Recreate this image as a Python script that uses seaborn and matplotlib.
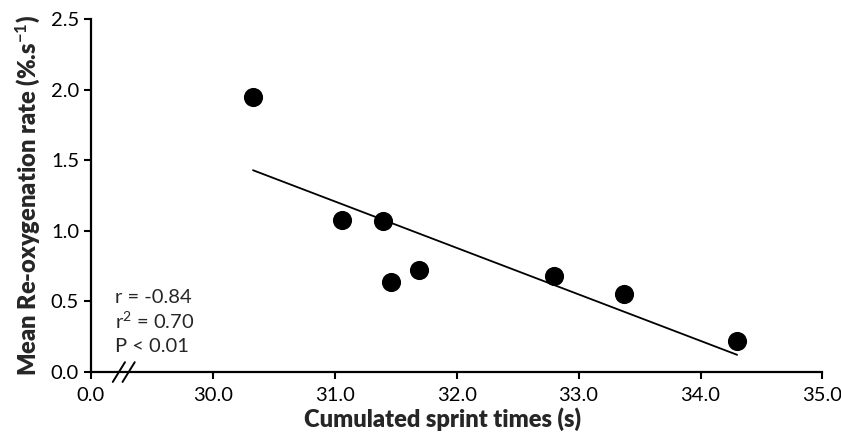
import pandas as pd
import matplotlib
matplotlib.use('Agg')
import matplotlib.pyplot as plt
import seaborn as sns

sns.set_style('ticks')
plt.rcParams['font.family'] = ['Lato', 'DejaVu Sans']
plt.rcParams['mathtext.fontset'] = 'custom'
plt.rcParams['mathtext.rm'] = 'Lato'
plt.rcParams['mathtext.it'] = 'Lato'
plt.rcParams['mathtext.bf'] = 'Lato:bold'

# valores
sprint_times = [30.33, 31.06, 31.40, 31.46, 31.69, 32.80, 33.37, 34.30]
reoxy_rate = [1.945, 1.076, 1.067, 0.64, 0.724, 0.68, 0.55, 0.22]
x_ticks = [29, 30, 31, 32, 33, 34, 35]
x_tick_labels = ['0.0', '30.0', '31.0', '32.0', '33.0', '34.0', '35.0']
y_ticks = [0.0, 0.5, 1.0, 1.5, 2.0, 2.5]
stats_text = ['r = -0.84', 'r$^{\\mathrm{2}}$ = 0.70', 'P < 0.01']

df = pd.DataFrame({'time': sprint_times, 'rate': reoxy_rate})

fig = plt.figure(figsize=(8.41, 4.44), dpi=100)
ax = fig.add_axes([0.108, 0.162, 0.870, 0.795])

sns.regplot(x='time', y='rate', data=df, ci=None, ax=ax,
            scatter_kws={'s': 190, 'color': 'black', 'linewidths': 0, 'alpha': 1},
            line_kws={'color': 'black', 'linewidth': 1.3})

ax.set_xlim(29, 35)
ax.set_ylim(0, 2.5)
ax.set_xticks(x_ticks)
ax.set_xticklabels(x_tick_labels)
ax.set_yticks(y_ticks)
ax.set_yticklabels([f'{v:.1f}' for v in y_ticks])
ax.tick_params(direction='out', length=5, width=1.5, labelsize=14.5, colors='black')
ax.tick_params(axis='x', pad=6)
for s in ['left', 'bottom']:
    ax.spines[s].set_linewidth(1.6)
    ax.spines[s].set_color('black')
sns.despine(ax=ax)

ax.set_xlabel('Cumulated sprint times (s)', fontsize=17, fontweight='heavy', va='top')
ax.xaxis.set_label_coords(0.48, -0.1)
ax.set_ylabel('Mean Re-oxygenation rate (%.s$^{\\mathbf{-1}}$)', fontsize=17,
              fontweight='heavy', labelpad=6)

# marca de quebra do eixo x
for dx in [0.0, 0.08]:
    ax.plot([29.18 + dx, 29.28 + dx], [-0.07, 0.07], color='black',
            linewidth=1.4, clip_on=False)

for i, t in enumerate(stats_text):
    ax.text(29.2, 0.53 - i * 0.173, t, fontsize=14.5, va='center', ha='left')

fig.savefig('out.png', dpi=100)
